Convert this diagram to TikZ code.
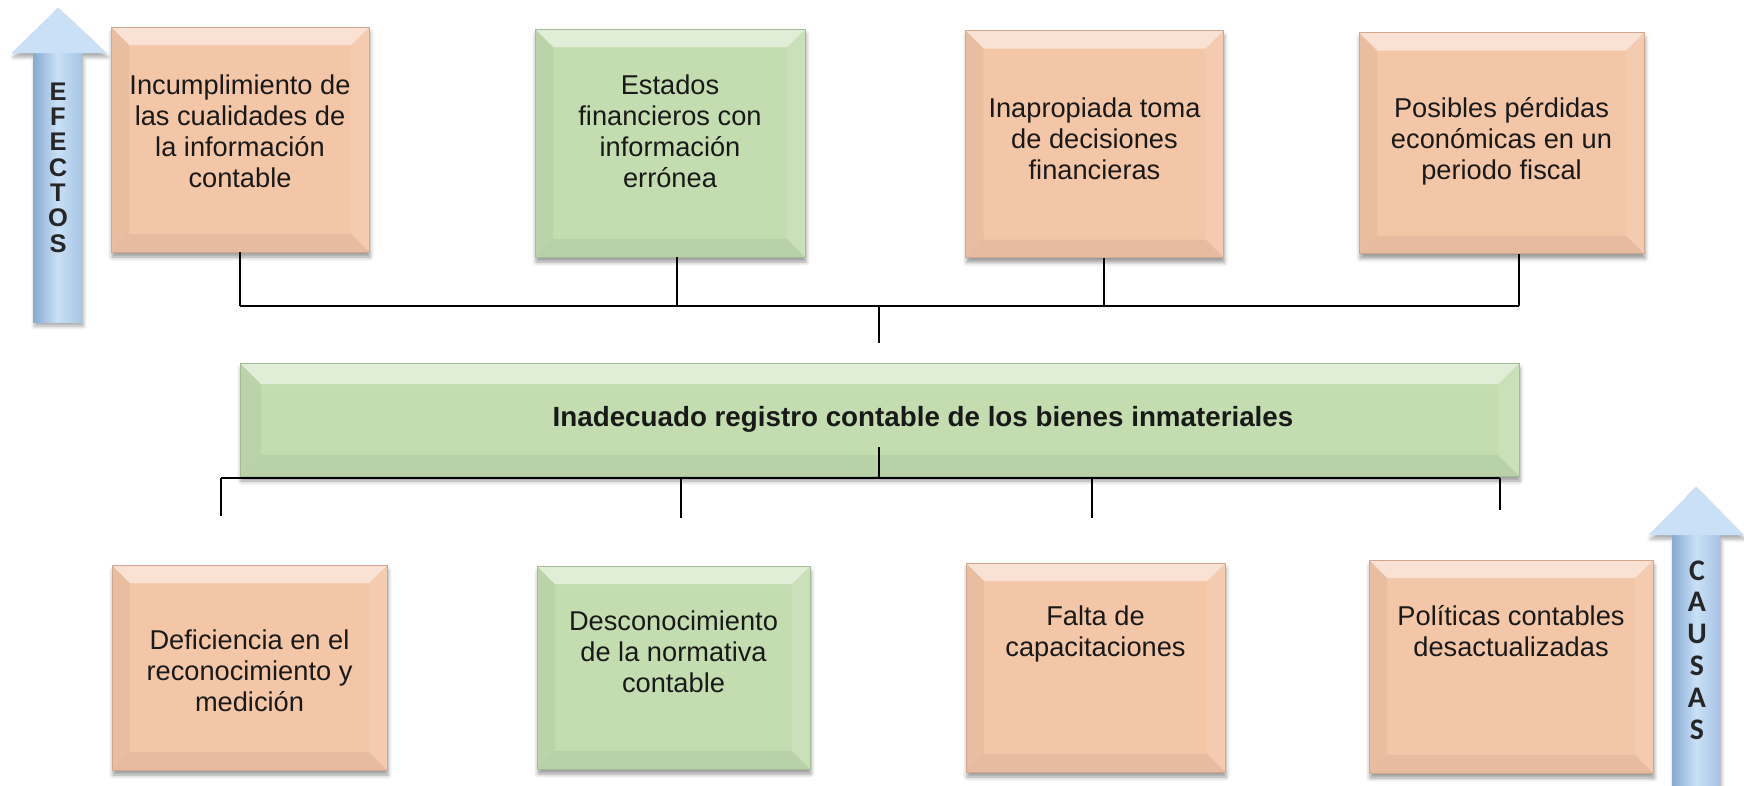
\documentclass[tikz,border=0pt]{standalone}
\usepackage{fontspec}
\setmainfont{Liberation Sans}
\newfontfamily\causafont{Carlito}
\usetikzlibrary{shadows.blur}
\pgfdeclarelayer{bg}
\pgfsetlayers{bg,main}
\definecolor{durazno}{HTML}{F4C6A8}
\definecolor{verde}{HTML}{C3DDB0}
\definecolor{azul}{HTML}{A6C4E4}
\definecolor{azulclaro}{HTML}{C9E0F6}
\definecolor{azuloscuro}{HTML}{86AAD2}
\tikzset{
  bisel/.style={path picture={
    \path (path picture bounding box.north west) coordinate (bnw)
          (path picture bounding box.north east) coordinate (bne)
          (path picture bounding box.south west) coordinate (bsw)
          (path picture bounding box.south east) coordinate (bse);
    \fill[white, opacity=0.5] (bnw) -- (bne) -- ([shift={(-#1,-#1)}]bne) -- ([shift={(#1,-#1)}]bnw) -- cycle;
    \fill[black, opacity=0.05] (bsw) -- (bse) -- ([shift={(-#1,#1)}]bse) -- ([shift={(#1,#1)}]bsw) -- cycle;
    \fill[black, opacity=0.045] (bnw) -- (bsw) -- ([shift={(#1,#1)}]bsw) -- ([shift={(#1,-#1)}]bnw) -- cycle;
    \fill[white, opacity=0.10] (bne) -- (bse) -- ([shift={(-#1,#1)}]bse) -- ([shift={(-#1,-#1)}]bne) -- cycle;
  }},
  caja/.style={draw=#1!85!black, line width=0.3pt, fill=#1, inner sep=0pt, bisel=0.36cm,
    blur shadow={shadow xshift=0.02cm, shadow yshift=-0.1cm, shadow blur radius=0.08cm, shadow opacity=40}},
  txt/.style={align=center, font=\fontsize{15.5}{17.6}\selectfont, text=black!90},
  bus/.style={line width=1pt},
}
\begin{document}
\begin{tikzpicture}
        \useasboundingbox (0cm, 0cm) rectangle (34.880000cm, -15.700000cm);
        % efectos
        \node (e1) [caja=durazno, minimum width=5.16cm, minimum height=4.50cm,
          label={[txt, yshift=0.17cm]center:{Incumplimiento de\\las cualidades de\\la información\\contable}}]
          at (4.800000cm, -2.790000cm) {};
        \node (e2) [caja=verde, minimum width=5.40cm, minimum height=4.56cm,
          label={[txt, yshift=0.24cm]center:{Estados\\financieros con\\información\\errónea}}]
          at (13.400000cm, -2.860000cm) {};
        \node (e3) [caja=durazno, minimum width=5.16cm, minimum height=4.54cm,
          label={[txt, yshift=0.11cm]center:{Inapropiada toma\\de decisiones\\financieras}}]
          at (21.890000cm, -2.880000cm) {};
        \node (e4) [caja=durazno, minimum width=5.70cm, minimum height=4.42cm,
          label={[txt, yshift=0.04cm]center:{Posibles pérdidas\\económicas en un\\periodo fiscal}}]
          at (30.030000cm, -2.860000cm) {};
        % problema central
        \node (p) [caja=verde, minimum width=25.58cm, minimum height=2.26cm, bisel=0.42cm,
          label={[txt, font=\fontsize{15.8}{18}\selectfont\bfseries, xshift=0.87cm]center:{Inadecuado registro contable de los bienes inmateriales}}]
          at (17.590000cm, -8.390000cm) {};
        % causas
        \node (c1) [caja=durazno, minimum width=5.50cm, minimum height=4.10cm,
          label={[txt, yshift=-0.07cm]center:{Deficiencia en el\\reconocimiento y\\medición}}]
          at (4.990000cm, -13.350000cm) {};
        \node (c2) [caja=verde, minimum width=5.46cm, minimum height=4.06cm,
          label={[txt, yshift=0.31cm]center:{Desconocimiento\\de la normativa\\contable}}]
          at (13.470000cm, -13.350000cm) {};
        \node (c3) [caja=durazno, minimum width=5.18cm, minimum height=4.18cm,
          label={[txt, yshift=0.67cm]center:{Falta de\\capacitaciones}}]
          at (21.910000cm, -13.350000cm) {};
        \node (c4) [caja=durazno, minimum width=5.68cm, minimum height=4.26cm,
          label={[txt, yshift=0.71cm]center:{Políticas contables\\desactualizadas}}]
          at (30.220000cm, -13.330000cm) {};
        % flechas laterales
        \begin{pgfonlayer}{bg}
                \path[fill=azul, blur shadow={shadow xshift=0.03cm, shadow yshift=-0.08cm, shadow opacity=35}]
                  (1.160000cm, -0.160000cm) -- (2.120000cm, -1.060000cm) -- (1.640000cm, -1.060000cm)
                  -- (1.640000cm, -6.440000cm) -- (0.660000cm, -6.440000cm) -- (0.660000cm, -1.060000cm)
                  -- (0.240000cm, -1.060000cm) -- cycle;
                \shade[left color=azuloscuro, right color=azul, middle color=azulclaro]
                  (0.660000cm, -1.060000cm) rectangle (1.640000cm, -6.440000cm);
                \fill[azulclaro] (0.240000cm, -1.060000cm) -- (1.160000cm, -0.160000cm) -- (2.120000cm, -1.060000cm) -- cycle;
                \path[fill=azul, blur shadow={shadow xshift=0.03cm, shadow yshift=-0.08cm, shadow opacity=35}]
                  (33.920000cm, -9.740000cm) -- (34.860000cm, -10.700000cm) -- (34.400000cm, -10.700000cm)
                  -- (34.400000cm, -15.700000cm) -- (33.440000cm, -15.700000cm) -- (33.440000cm, -10.700000cm)
                  -- (32.980000cm, -10.700000cm) -- cycle;
                \shade[left color=azuloscuro, right color=azul, middle color=azulclaro]
                  (33.440000cm, -10.700000cm) rectangle (34.400000cm, -15.700000cm);
                \fill[azulclaro] (32.980000cm, -10.700000cm) -- (33.920000cm, -9.740000cm) -- (34.860000cm, -10.700000cm) -- cycle;
        \end{pgfonlayer}
        \node (efectos) [align=center, font=\bfseries\fontsize{14.5}{14.4}\selectfont, text=black!85] at (1.160000cm, -3.350000cm)
          {E\\F\\E\\C\\T\\O\\S};
        \node (causas) [align=center, font=\causafont\bfseries\fontsize{17}{18.1}\selectfont, text=black!85] at (33.940000cm, -13.000000cm)
          {C\\A\\U\\S\\A\\S};
        % puntos de los conectores
        \coordinate (t1) at (4.800000cm, -6.120000cm);
        \coordinate (t2) at (13.540000cm, -6.120000cm);
        \coordinate (t3) at (22.080000cm, -6.120000cm);
        \coordinate (t4) at (30.380000cm, -6.120000cm);
        \coordinate (tm) at (17.580000cm, -6.120000cm);
        \coordinate (ta) at (17.580000cm, -6.860000cm);
        \coordinate (pin) at (17.580000cm, -8.940000cm);
        \coordinate (bm) at (17.580000cm, -9.560000cm);
        \coordinate (b1) at (4.420000cm, -9.560000cm);
        \coordinate (b2) at (13.620000cm, -9.560000cm);
        \coordinate (b3) at (21.840000cm, -9.560000cm);
        \coordinate (b4) at (30.000000cm, -9.560000cm);
        \coordinate (d1) at (4.420000cm, -10.320000cm);
        \coordinate (d2) at (13.620000cm, -10.360000cm);
        \coordinate (d3) at (21.840000cm, -10.360000cm);
        \coordinate (d4) at (30.000000cm, -10.200000cm);
        \draw (e1.south -| t1) edge [bus] (t1);
        \draw (e2.south -| t2) edge [bus] (t2);
        \draw (e3.south -| t3) edge [bus] (t3);
        \draw (e4.south -| t4) edge [bus] (t4);
        \draw (t1) edge [bus] (t4);
        \draw (tm) edge [bus] (ta);
        \draw (pin) edge [bus] (bm);
        \draw (b1) edge [bus] (b4);
        \draw (b1) edge [bus] (d1);
        \draw (b2) edge [bus] (d2);
        \draw (b3) edge [bus] (d3);
        \draw (b4) edge [bus] (d4);
\end{tikzpicture}
\end{document}
